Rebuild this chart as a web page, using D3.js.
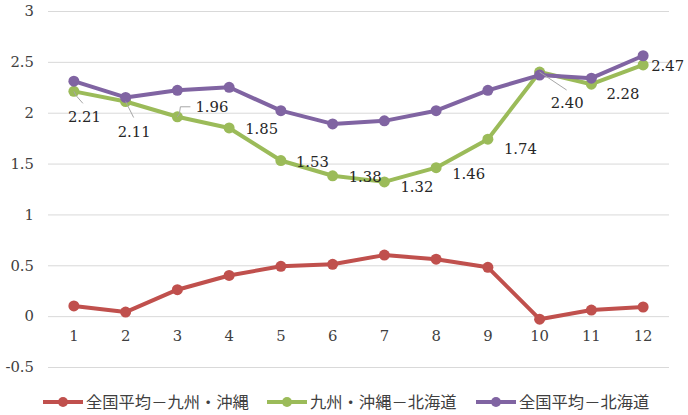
<!DOCTYPE html>
<html>
<head>
<meta charset="utf-8">
<script src="https://cdn.jsdelivr.net/npm/d3@7"></script>
<style>
  body { margin: 0; background: #fff; }
  svg { display: block; }
  .num { font-family: "DejaVu Serif", serif; font-size: 14.8px; }
</style>
</head>
<body>
<div id="chart"></div>
<script>
// months on the x axis
var months = ["1", "2", "3", "4", "5", "6", "7", "8", "9", "10", "11", "12"];
// 全国平均－九州・沖縄
var zenkokuKyushu = [0.10, 0.04, 0.26, 0.40, 0.49, 0.51, 0.60, 0.56, 0.48, -0.03, 0.06, 0.09];
// 九州・沖縄－北海道
var kyushuHokkaido = [2.21, 2.11, 1.96, 1.85, 1.53, 1.38, 1.32, 1.46, 1.74, 2.40, 2.28, 2.47];
// 全国平均－北海道
var zenkokuHokkaido = [2.31, 2.15, 2.22, 2.25, 2.02, 1.89, 1.92, 2.02, 2.22, 2.37, 2.34, 2.56];
var yTicks = [-0.5, 0, 0.5, 1, 1.5, 2, 2.5, 3];
var seriesNames = ["全国平均－九州・沖縄", "九州・沖縄－北海道", "全国平均－北海道"];

var series = [
  { name: seriesNames[0], values: zenkokuKyushu, color: "#C0504D" },
  { name: seriesNames[1], values: kyushuHokkaido, color: "#9BBB59" },
  { name: seriesNames[2], values: zenkokuHokkaido, color: "#8064A2" }
];

var W = 688, H = 415;
var margin = {top: 11, right: 19, bottom: 48, left: 48},
    width = W - margin.left - margin.right,
    height = H - margin.top - margin.bottom;

var svg = d3.select("#chart")
  .append("svg")
    .attr("width", W)
    .attr("height", H);

var g = svg.append("g")
    .attr("transform", "translate(" + margin.left + "," + margin.top + ")");

var xScale = d3.scaleBand()
  .domain(months)
  .range([0, width]);
var xPos = function(i) { return xScale(months[i]) + xScale.bandwidth() / 2; };

var yScale = d3.scaleLinear()
  .domain([-0.5, 3])
  .range([height, 0]);

// gridlines + y labels (plain hyphen for negatives, like the original)
var yAxis = g.append("g")
  .call(d3.axisLeft(yScale).tickValues(yTicks).tickSize(-width).tickFormat(function(d) { return String(d); }));
yAxis.attr("font-family", null).attr("font-size", null);
yAxis.select(".domain").remove();
yAxis.selectAll("line").attr("stroke", "#D9D9D9").attr("stroke-width", 1);
yAxis.selectAll("text")
  .attr("class", "num")
  .attr("x", -14)
  .attr("fill", "#404040");

// x labels sit just below the zero line
var xAxis = g.append("g")
  .attr("transform", "translate(0," + yScale(0) + ")")
  .call(d3.axisBottom(xScale).tickSize(0));
xAxis.attr("font-family", null).attr("font-size", null);
xAxis.select(".domain").remove();
xAxis.selectAll("text")
  .attr("class", "num")
  .attr("dy", "1.5em")
  .attr("fill", "#404040");

var line = d3.line()
  .x(function(d, i) { return xPos(i); })
  .y(function(d) { return yScale(d); });

series.forEach(function(s) {
  g.append("path")
    .datum(s.values)
    .attr("fill", "none")
    .attr("stroke", s.color)
    .attr("stroke-width", 4)
    .attr("stroke-linejoin", "round")
    .attr("d", line);
  g.selectAll(null)
    .data(s.values)
    .enter().append("circle")
    .attr("cx", function(d, i) { return xPos(i); })
    .attr("cy", function(d) { return yScale(d); })
    .attr("r", 5.5)
    .attr("fill", s.color);
});

// data labels for the green series (offsets relative to the point)
var labelOffsets = [
  {dx: -6, dy: 25, lead: [[2, 4], [9, 12]]},
  {dx: -8, dy: 30, lead: [[2, 4], [8, 16]]},
  {dx: 18, dy: -10, lead: [[2, -3], [3, -10], [13, -10]]},
  {dx: 16, dy: 1},
  {dx: 15, dy: 1},
  {dx: 16, dy: 1},
  {dx: 16, dy: 5},
  {dx: 16, dy: 6},
  {dx: 16, dy: 10},
  {dx: 11, dy: 31, lead: [[3, 2], [27, 18]]},
  {dx: 15, dy: 10},
  {dx: 8, dy: 1}
];

var fmt = d3.format(".2f");
kyushuHokkaido.forEach(function(v, i) {
  var o = labelOffsets[i], px = xPos(i), py = yScale(v);
  if (o.lead) {
    var pts = [[px, py]].concat(o.lead.map(function(p) { return [px + p[0], py + p[1]]; }));
    g.append("path")
      .attr("d", d3.line()(pts))
      .attr("fill", "none")
      .attr("stroke", "#A6A6A6")
      .attr("stroke-width", 1);
  }
  g.append("text")
    .attr("class", "num")
    .attr("x", px + o.dx)
    .attr("y", py + o.dy)
    .attr("dy", "0.35em")
    .attr("fill", "#262626")
    .text(fmt(v));
});

// legend
var legendX = [43, 267, 476];
var legend = svg.append("g").attr("transform", "translate(0,402)");
series.forEach(function(s, i) {
  var lg = legend.append("g").attr("transform", "translate(" + legendX[i] + ",0)");
  lg.append("line")
    .attr("x1", 0).attr("x2", 40)
    .attr("stroke", s.color).attr("stroke-width", 4);
  lg.append("circle").attr("cx", 20).attr("r", 5).attr("fill", s.color);
  lg.append("text")
    .attr("x", 43)
    .attr("dy", "0.35em")
    .style("font-family", "'Noto Sans CJK JP', sans-serif")
    .style("font-size", "16.3px")
    .attr("fill", "#404040")
    .text(s.name);
});
</script>
</body>
</html>
